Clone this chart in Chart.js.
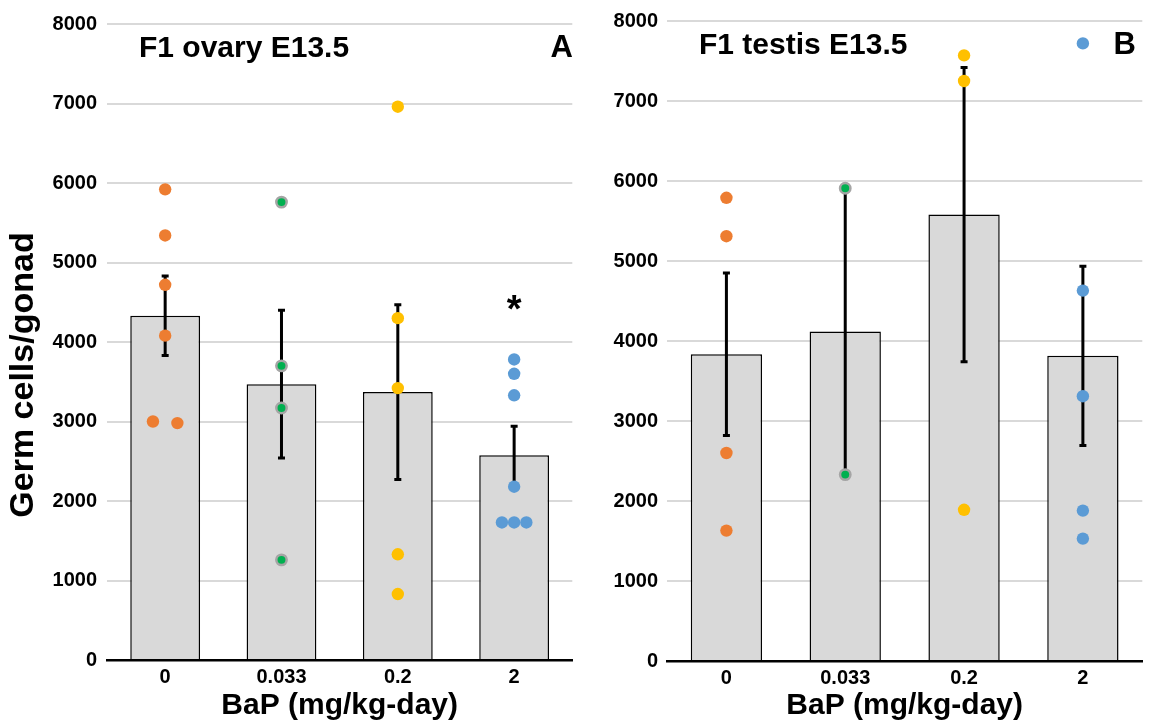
<!DOCTYPE html>
<html>
<head>
<meta charset="utf-8">
<title>F1 germ cells E13.5</title>
<script src="https://cdn.jsdelivr.net/npm/chart.js@4.4.1/dist/chart.umd.min.js"></script>
<style>
  html, body { margin: 0; padding: 0; background: #fff; }
  #wrap { position: relative; width: 1150px; height: 724px; }
  .panel { position: absolute; top: 0; }
  #ovaryPanel { left: 0; }
  #testisPanel { left: 580px; }
</style>
</head>
<body>
<div id="wrap">
  <div class="panel" id="ovaryPanel"><canvas id="ovaryChart" width="580" height="724"></canvas></div>
  <div class="panel" id="testisPanel"><canvas id="testisChart" width="570" height="724"></canvas></div>
</div>
<script>
// Categories and tick labels
const doses = ['0', '0.033', '0.2', '2'];
const yTickValues = [0, 1000, 2000, 3000, 4000, 5000, 6000, 7000, 8000];
const yTickLabels = ['0', '1000', '2000', '3000', '4000', '5000', '6000', '7000', '8000'];

// Ovary (panel A) - bar means, SEM and individual gonads
const ovaryMean = [4330, 3470, 3370, 2575];
const ovarySem = [500, 930, 1100, 365];
const ovaryDose0 = [5920, 5340, 4720, 4080, 3000, 2980];
const ovaryDose033 = [5760, 3700, 3170, 1260];
const ovaryDose02 = [6960, 4300, 3420, 1330, 830];
const ovaryDose2 = [3780, 3600, 3330, 2180, 1730, 1730, 1730];
const ovaryStar = [4450]; // "*" above the 2 mg/kg-day group

// Testis (panel B)
const testisMean = [3835, 4120, 5580, 3815];
const testisSem = [1015, 1790, 1840, 1120];
const testisDose0 = [5790, 5310, 2600, 1630];
const testisDose033 = [5910, 2330];
const testisDose02 = [7570, 7250, 1890];
const testisDose2 = [4630, 3310, 1880, 1530];
const testisKeyDot = [7720];

const colors = {
    bar: '#D9D9D9',
    orange: '#ED7D31',
    green: '#00B050',
    greenEdge: '#A5A5A5',
    yellow: '#FFC000',
    blue: '#5B9BD5',
    grid: '#D9D9D9'
};

const FONT = '"Liberation Sans", Arial, Helvetica, sans-serif';
Chart.defaults.font.family = FONT;
Chart.defaults.color = '#000';

// put dots with the same value side by side instead of on top of each other
function spreadDots(values, category) {
    const step = 0.105;
    return values.map((v, i) => {
        const near = values.filter(w => Math.abs(w - v) < 50).length;
        const rank = values.slice(0, i).filter(w => Math.abs(w - v) < 50).length;
        let off = rank - (near - 1) / 2;
        if (near % 2 === 0) off = off < 0 ? Math.floor(off) : Math.ceil(off);
        return { x: category + off * step, y: v };
    });
}

function dotSet(values, category, color) {
    const isGreen = color === colors.green;
    return {
        type: 'scatter',
        xAxisID: 'xp',
        data: spreadDots(values, category),
        backgroundColor: color,
        borderColor: isGreen ? colors.greenEdge : color,
        borderWidth: isGreen ? 2.5 : 0,
        pointRadius: isGreen ? 5.2 : 6.2,
        pointHoverRadius: isGreen ? 5.2 : 6.2,
        order: 1
    };
}

// SEM whiskers, drawn right after the bars so dots sit on top
const errorBars = {
    id: 'errorBars',
    afterDatasetDraw(chart, args, opts) {
        if (args.index !== 0) return;
        const { ctx } = chart;
        const x = chart.scales.x;
        const y = chart.scales.y;
        const means = chart.data.datasets[0].data;
        ctx.save();
        ctx.strokeStyle = '#000';
        ctx.lineWidth = 3;
        means.forEach((m, i) => {
            const px = x.getPixelForValue(i);
            const top = y.getPixelForValue(m + opts.sem[i]);
            const bottom = y.getPixelForValue(m - opts.sem[i]);
            ctx.beginPath();
            ctx.moveTo(px, top);
            ctx.lineTo(px, bottom);
            ctx.moveTo(px - 3.5, top);
            ctx.lineTo(px + 3.5, top);
            ctx.moveTo(px - 3.5, bottom);
            ctx.lineTo(px + 3.5, bottom);
            ctx.stroke();
        });
        ctx.restore();
    }
};

// Panel title, panel letter, y title and significance mark
const panelText = {
    id: 'panelText',
    afterDraw(chart, args, opts) {
        const { ctx, chartArea } = chart;
        ctx.save();
        ctx.fillStyle = '#000';
        ctx.textBaseline = 'alphabetic';

        ctx.font = 'bold 30px ' + FONT;
        ctx.textAlign = 'left';
        ctx.fillText(opts.title, chartArea.left + 32, chartArea.top + 33);

        ctx.font = 'bold 31px ' + FONT;
        ctx.textAlign = 'right';
        ctx.fillText(opts.letter, opts.letterRight, chartArea.top + 33);

        if (opts.star) {
            ctx.font = 'bold 38px ' + FONT;
            ctx.textAlign = 'center';
            ctx.textBaseline = 'middle';
            ctx.fillText('*', chart.scales.x.getPixelForValue(opts.star.index),
                chart.scales.y.getPixelForValue(opts.star.value) + 5);
        }

        if (opts.yTitle) {
            ctx.translate(33, 375);
            ctx.rotate(-Math.PI / 2);
            ctx.font = 'bold 34px ' + FONT;
            ctx.textAlign = 'center';
            ctx.textBaseline = 'alphabetic';
            ctx.fillText(opts.yTitle, 0, 0);
        }
        ctx.restore();
    }
};

function makePanel(canvasId, cfg) {
    const tickFont = { size: 20, weight: 'bold' };
    return new Chart(document.getElementById(canvasId), {
        data: {
            labels: doses,
            datasets: [
                {
                    type: 'bar',
                    data: cfg.mean,
                    backgroundColor: colors.bar,
                    borderColor: '#000',
                    borderWidth: 1.5,
                    borderSkipped: 'bottom',
                    grouped: false,
                    barPercentage: 0.6,
                    categoryPercentage: 1,
                    order: 3
                },
                ...cfg.dots
            ]
        },
        options: {
            responsive: false,
            animation: false,
            events: [],
            layout: { padding: { left: 0, right: 5, top: cfg.top, bottom: 0 } },
            scales: {
                x: {
                    type: 'category',
                    offset: true,
                    afterFit: s => { s.height = 724 - cfg.bottom; },
                    grid: { display: true, drawOnChartArea: false, drawTicks: false, color: 'rgba(0,0,0,0)' },
                    border: { display: true, color: '#000', width: 2.5 },
                    ticks: { color: '#000', font: tickFont, padding: 5 },
                    title: {
                        display: true,
                        text: 'BaP (mg/kg-day)',
                        color: '#000',
                        font: { size: 30, weight: 'bold' },
                        padding: { top: 0, bottom: 0 }
                    }
                },
                xp: {
                    type: 'linear',
                    display: false,
                    min: -0.5,
                    max: 3.5
                },
                y: {
                    min: 0,
                    max: 8000,
                    afterFit: s => { s.width = cfg.axisWidth; },
                    afterBuildTicks: s => { s.ticks = yTickValues.map(v => ({ value: v })); },
                    border: { display: false },
                    grid: {
                        drawTicks: false,
                        lineWidth: 2,
                        color: c => (c.tick && c.tick.value === 0) ? 'rgba(0,0,0,0)' : colors.grid
                    },
                    ticks: {
                        color: '#000',
                        font: tickFont,
                        padding: cfg.tickPad,
                        callback: (v, i) => yTickLabels[i]
                    }
                }
            },
            plugins: {
                legend: { display: false },
                tooltip: { enabled: false },
                errorBars: { sem: cfg.sem },
                panelText: cfg.text
            }
        },
        plugins: [errorBars, panelText]
    });
}

document.addEventListener('DOMContentLoaded', function() {
    makePanel('ovaryChart', {
        mean: ovaryMean,
        sem: ovarySem,
        top: 24,
        bottom: 660,
        axisWidth: 107,
        tickPad: 10,
        dots: [
            dotSet(ovaryDose0, 0, colors.orange),
            dotSet(ovaryDose033, 1, colors.green),
            dotSet(ovaryDose02, 2, colors.yellow),
            dotSet(ovaryDose2, 3, colors.blue)
        ],
        text: {
            title: 'F1 ovary E13.5',
            letter: 'A',
            letterRight: 573,
            star: { index: 3, value: ovaryStar[0] },
            yTitle: 'Germ cells/gonad'
        }
    });

    makePanel('testisChart', {
        mean: testisMean,
        sem: testisSem,
        top: 21,
        bottom: 661,
        axisWidth: 87,
        tickPad: 9,
        dots: [
            dotSet(testisDose0, 0, colors.orange),
            dotSet(testisDose033, 1, colors.green),
            dotSet(testisDose02, 2, colors.yellow),
            dotSet(testisDose2, 3, colors.blue),
            dotSet(testisKeyDot, 3, colors.blue)
        ],
        text: {
            title: 'F1 testis E13.5',
            letter: 'B',
            letterRight: 556
        }
    });
});
</script>
</body>
</html>
